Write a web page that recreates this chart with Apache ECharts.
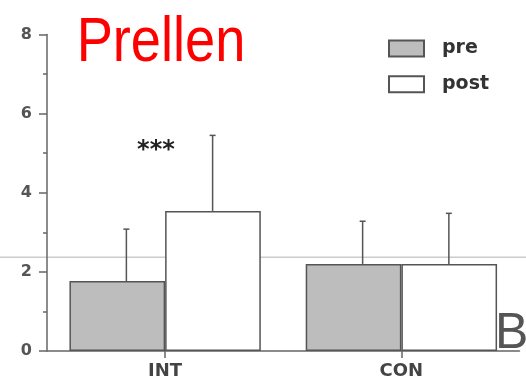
<!DOCTYPE html>
<html>
<head>
<meta charset="utf-8">
<script src="https://cdn.jsdelivr.net/npm/echarts@6/dist/echarts.min.js"></script>
<style>
  html, body { margin: 0; padding: 0; background: #ffffff; }
  #chart { width: 526px; height: 382px; }
</style>
</head>
<body>
<div id="chart"></div>
<script>
// ---- data ----
const categories = ['INT', 'CON'];
const seriesNames = ['pre', 'post'];
const preValues = [1.77, 2.20];
const postValues = [3.54, 2.20];
const preSD = [1.31, 1.08];
const postSD = [1.91, 1.28];
const sigLabels = ['***', ''];
const sigLevel = [5.05, null];
const yTickValues = [0, 2, 4, 6, 8];
const refLineValue = [2.37];
const titleText = 'Prellen';
const panelLetter = 'B';

const chart = echarts.init(document.getElementById('chart'), null, { renderer: 'canvas' });

const edge = '#555555';
const axisColor = '#666666';

function errorData(means, sds) {
  return means.map((m, i) => [i, m, sds[i]]);
}

function makeErrorRender(offsetFrac) {
  return function (params, api) {
    const cat = api.value(0);
    const mean = api.value(1);
    const sd = api.value(2);
    const band = api.size([1, 0])[0];
    const base = api.coord([cat, mean]);
    const top = api.coord([cat, mean + sd]);
    const x = base[0] + offsetFrac * band;
    const cap = 3;
    const style = { stroke: edge, lineWidth: 1.5 };
    return {
      type: 'group',
      children: [
        { type: 'line', shape: { x1: x, y1: base[1], x2: x, y2: top[1] }, style: style },
        { type: 'line', shape: { x1: x - cap, y1: top[1], x2: x + cap, y2: top[1] }, style: style }
      ]
    };
  };
}

const option = {
  backgroundColor: '#ffffff',
  animation: false,
  grid: { left: 47, right: 6.5, top: 34.5, bottom: 31, containLabel: false },
  legend: {
    data: seriesNames,
    orient: 'vertical',
    left: 388,
    top: 39,
    padding: 0,
    itemWidth: 35,
    itemHeight: 16,
    itemGap: 16.7,
    icon: 'rect',
    textStyle: {
      fontFamily: 'DejaVu Sans',
      fontWeight: 'bold',
      fontSize: 19,
      color: '#333333',
      padding: [0, 0, 0, 13]
    }
  },
  xAxis: {
    type: 'category',
    data: categories,
    axisLine: { lineStyle: { color: axisColor, width: 1.5 } },
    axisTick: { show: true, alignWithLabel: true, length: 7, lineStyle: { color: axisColor, width: 1.5 } },
    axisLabel: {
      margin: 11,
      fontFamily: 'DejaVu Sans',
      fontWeight: 'bold',
      fontSize: 18,
      color: '#444444'
    },
    splitLine: { show: false }
  },
  yAxis: {
    type: 'value',
    min: yTickValues[0],
    max: yTickValues[yTickValues.length - 1],
    interval: yTickValues[1] - yTickValues[0],
    axisLine: { show: true, lineStyle: { color: axisColor, width: 1.5 } },
    axisTick: { show: true, length: 8, lineStyle: { color: axisColor, width: 1.5 } },
    minorTick: { show: true, splitNumber: 2, length: 4, lineStyle: { color: axisColor, width: 1.5 } },
    axisLabel: {
      margin: 15,
      fontFamily: 'DejaVu Sans',
      fontWeight: 'bold',
      fontSize: 16,
      color: '#555555'
    },
    splitLine: { show: false }
  },
  series: [
    {
      name: seriesNames[0],
      type: 'bar',
      data: preValues,
      barGap: '0%',
      barCategoryGap: '19%',
      z: 3,
      itemStyle: { color: '#bdbdbd', borderColor: edge, borderWidth: 1.5 }
    },
    {
      name: seriesNames[1],
      type: 'bar',
      data: postValues,
      barGap: '0%',
      barCategoryGap: '19%',
      z: 3,
      itemStyle: { color: '#ffffff', borderColor: edge, borderWidth: 1.5 }
    },
    {
      type: 'custom',
      name: 'preErr',
      data: errorData(preValues, preSD),
      renderItem: makeErrorRender(-0.164),
      encode: { x: 0, y: 1 },
      z: 4,
      silent: true
    },
    {
      type: 'custom',
      name: 'postErr',
      data: errorData(postValues, postSD),
      renderItem: makeErrorRender(0.201),
      encode: { x: 0, y: 1 },
      z: 4,
      silent: true
    },
    {
      type: 'custom',
      name: 'sig',
      data: sigLabels.map((s, i) => [i, sigLevel[i] == null ? 0 : sigLevel[i], s]),
      renderItem: function (params, api) {
        const i = params.dataIndex;
        const txt = sigLabels[i];
        if (!txt) return null;
        const band = api.size([1, 0])[0];
        const p = api.coord([api.value(0), api.value(1)]);
        return {
          type: 'text',
          x: p[0] - 0.039 * band,
          y: p[1],
          style: {
            text: txt,
            fill: '#222222',
            font: 'bold 24px "DejaVu Sans"',
            align: 'center',
            verticalAlign: 'middle'
          }
        };
      },
      encode: { x: 0, y: 1 },
      z: 5,
      silent: true
    }
  ]
};

chart.setOption(option);

function drawGraphics() {
  const yRef = chart.convertToPixel({ yAxisIndex: 0 }, refLineValue[0]);
  chart.setOption({
    graphic: [
      {
        type: 'line',
        z: 0,
        zlevel: 0,
        shape: { x1: 0, y1: yRef, x2: 526, y2: yRef },
        style: { stroke: '#cccccc', lineWidth: 1.5 },
        silent: true
      },
      {
        type: 'text',
        z: 10,
        x: 161,
        y: 44,
        scaleX: 0.86,
        style: {
          text: titleText,
          fill: '#ff0000',
          font: '63px "Liberation Sans", Arial, sans-serif',
          align: 'center',
          verticalAlign: 'middle'
        },
        silent: true
      },
      {
        type: 'text',
        z: 10,
        x: 495,
        y: 334,
        style: {
          text: panelLetter,
          fill: '#555555',
          font: '50px "Liberation Sans", Arial, sans-serif',
          align: 'left',
          verticalAlign: 'middle'
        },
        silent: true
      }
    ]
  });
}
drawGraphics();
</script>
</body>
</html>
